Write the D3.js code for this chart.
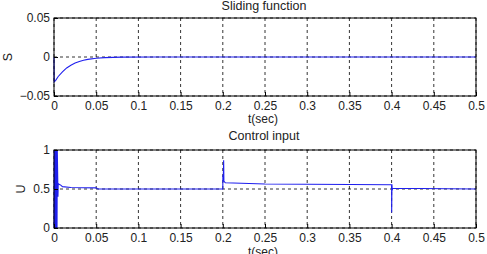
<!DOCTYPE html>
<html><head><meta charset="utf-8">
<script src="https://cdn.jsdelivr.net/npm/d3@7"></script>
<style>body{margin:0;background:#fff}text{font-family:"Liberation Sans",Arial,sans-serif;}</style>
</head><body><svg id="c" width="487" height="254"></svg>
<script>
const xTicks = [0,0.05,0.1,0.15,0.2,0.25,0.3,0.35,0.4,0.45,0.5];
const sTicks = [-0.05,0,0.05];
const uTicks = [0,0.5,1];
const sTime = [0,0.0002,0.002,0.005,0.01,0.015,0.02,0.025,0.03,0.035,0.04,0.05,0.06,0.08,0.12,0.5];
const sVal  = [0,-0.032,-0.03,-0.025,-0.019,-0.014,-0.0105,-0.0078,-0.0058,-0.0042,-0.003,-0.0016,-0.0008,-0.0002,0,0];
const uTime = [0,0.0003,0.0006,0.0009,0.0012,0.0015,0.0018,0.0021,0.0024,0.0027,0.003,0.0033,0.0036,0.0039,0.0045,0.0047,0.005,0.006,0.008,0.01,0.02,0.05,0.052,0.2,0.2001,0.2005,0.201,0.2013,0.203,0.25,0.4,0.4001,0.4004,0.4007,0.401,0.5];
const uVal  = [0,1,0,1,0,1,0,1,0,1,0,1,0,1,0.58,0.4,0.57,0.56,0.55,0.53,0.52,0.515,0.5,0.5,0.68,0.6,0.87,0.6,0.58,0.565,0.555,0.2,0.56,0.48,0.51,0.5];

const svg = d3.select("#c");
svg.append("rect").attr("width",487).attr("height",254).attr("fill","#fff");
const x = d3.scaleLinear().domain([0,0.5]).range([54,476]);
const txt = "#222";

function panel(top,bottom,yDom,yTicks,times,vals,title,titleY,ylab,ylabX){
  const y = d3.scaleLinear().domain(yDom).range([bottom,top]);
  const g = svg.append("g");
  g.selectAll(".vg").data(xTicks).enter().append("line")
    .attr("x1",d=>x(d)).attr("x2",d=>x(d)).attr("y1",top).attr("y2",bottom)
    .attr("stroke","#000").attr("stroke-width",0.8).attr("stroke-dasharray","3,3");
  g.selectAll(".hg").data(yTicks).enter().append("line")
    .attr("x1",x(0)).attr("x2",x(0.5)).attr("y1",d=>y(d)).attr("y2",d=>y(d))
    .attr("stroke","#000").attr("stroke-width",0.8).attr("stroke-dasharray","3,3");
  const pts = times.map((t,i)=>[t,vals[i]]);
  g.append("path").datum(pts)
    .attr("d",d3.line().x(d=>x(d[0])).y(d=>y(d[1])))
    .attr("fill","none").attr("stroke","#1f1fee").attr("stroke-width",1.1);
  const ax = g.append("g").attr("transform",`translate(0,${bottom})`)
    .call(d3.axisBottom(x).tickValues(xTicks).tickFormat(d3.format("~g")).tickSize(-4).tickPadding(5));
  const ay = g.append("g").attr("transform",`translate(${x(0)},0)`)
    .call(d3.axisLeft(y).tickValues(yTicks).tickFormat(d3.format("~g")).tickSize(-4).tickPadding(4));
  [ax,ay].forEach(a=>{a.select(".domain").remove();a.selectAll("text").attr("font-size",12).attr("fill",txt).attr("font-family","Liberation Sans, Arial, sans-serif");a.selectAll("line").attr("stroke","#000");});
  g.append("rect").attr("x",x(0)).attr("y",top).attr("width",x(0.5)-x(0)).attr("height",bottom-top)
    .attr("fill","none").attr("stroke","#000").attr("stroke-width",1);
  g.append("text").attr("x",264).attr("y",titleY).attr("text-anchor","middle").attr("font-size",12.5).attr("fill",txt).text(title);
  g.append("text").attr("transform",`translate(${ylabX},${(top+bottom)/2}) rotate(-90)`).attr("text-anchor","middle").attr("dy","0.35em").attr("font-size",12.5).attr("fill",txt).text(ylab);
}
panel(18,96,[-0.05,0.05],sTicks,sTime,sVal,"Sliding function",10,"S",8);
svg.append("text").attr("x",263).attr("y",122.5).attr("text-anchor","middle").attr("font-size",12).attr("fill",txt).text("t(sec)");
panel(150,228,[0,1],uTicks,uTime,uVal,"Control input",139.5,"U",21);
svg.append("text").attr("x",263).attr("y",256).attr("text-anchor","middle").attr("font-size",12).attr("fill",txt).text("t(sec)");
</script></body></html>
